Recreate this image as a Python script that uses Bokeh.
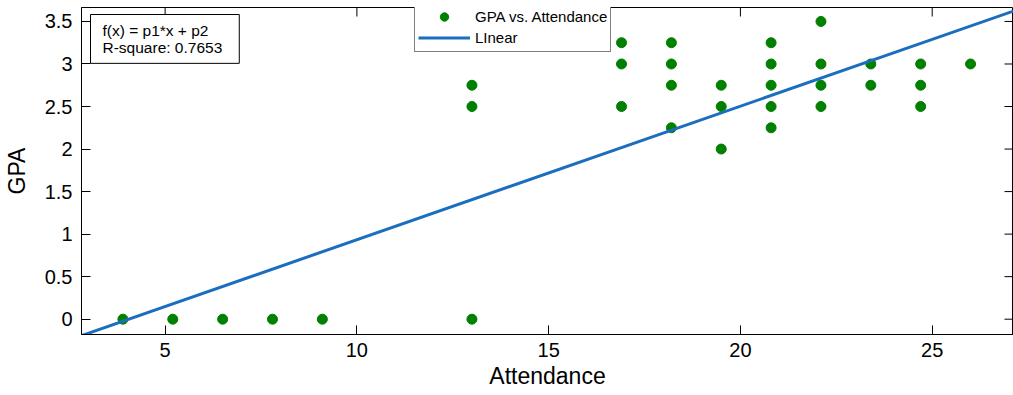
from bokeh.plotting import figure
from bokeh.models import Range1d, Label, FixedTicker
from bokeh.embed import file_html
from bokeh.resources import INLINE

# ---- data ----
attendance = [3.9, 5.2, 6.5, 7.8, 9.1,
              13.0, 13.0, 13.0,
              16.9, 16.9, 16.9,
              18.2, 18.2, 18.2, 18.2,
              19.5, 19.5, 19.5,
              20.8, 20.8, 20.8, 20.8, 20.8,
              22.1, 22.1, 22.1, 22.1,
              23.4, 23.4,
              24.7, 24.7, 24.7,
              26.0]
gpa = [0, 0, 0, 0, 0,
       0, 2.5, 2.75,
       2.5, 3.0, 3.25,
       2.25, 2.75, 3.0, 3.25,
       2.0, 2.5, 2.75,
       2.25, 2.5, 2.75, 3.0, 3.25,
       2.5, 2.75, 3.0, 3.5,
       2.75, 3.0,
       2.5, 2.75, 3.0,
       3.0]

fit_p1 = 0.157
fit_p2 = -0.636
r_square = "0.7653"

x_ticks = [5, 10, 15, 20, 25]
y_ticks = [0, 0.5, 1, 1.5, 2, 2.5, 3, 3.5]
y_tick_labels = ["0", "0.5", "1", "1.5", "2", "2.5", "3", "3.5"]

X_START, X_END = 2.82, 27.12
Y_START, Y_END = -0.18, 3.664

FONT = "Liberation Sans"
W, H = 1013, 395
BL, BR, BT, BB = 81, 0, 7, 61
TICK = 9

p = figure(width=W, height=H, output_backend="svg", toolbar_location=None,
           x_range=Range1d(X_START, X_END), y_range=Range1d(Y_START, Y_END),
           min_border_left=BL, min_border_right=BR, min_border_top=BT, min_border_bottom=BB)
p.background_fill_color = "white"
p.border_fill_color = "white"
p.outline_line_color = "black"
p.outline_line_width = 1
p.xgrid.visible = False
p.ygrid.visible = False

# inward ticks on the top and right edges (box style)
px_per_x = (W - BL - BR) / (X_END - X_START)
px_per_y = (H - BT - BB) / (Y_END - Y_START)
dx = TICK / px_per_x
dy = TICK / px_per_y
p.segment(x0=x_ticks, y0=[Y_END] * len(x_ticks), x1=x_ticks, y1=[Y_END - dy] * len(x_ticks),
          line_color="black", line_width=1)
p.segment(x0=[X_END] * len(y_ticks), y0=y_ticks, x1=[X_END - dx] * len(y_ticks), y1=y_ticks,
          line_color="black", line_width=1)

# data and fit line
fx = [X_START, X_END]
fy = [fit_p1 * v + fit_p2 for v in fx]
sc = p.scatter(attendance, gpa, size=10, color="#008000", legend_label="GPA vs. Attendance")
ln = p.line(fx, fy, line_color="#1b6ebe", line_width=3, legend_label="LInear")

def style_axis(ax, ticks):
    ax.ticker = FixedTicker(ticks=ticks)
    ax.major_tick_in = TICK
    ax.major_tick_out = 0
    ax.minor_tick_line_color = None
    ax.axis_line_color = "black"
    ax.major_tick_line_color = "black"
    ax.major_label_text_font = FONT
    ax.major_label_text_color = "black"
    ax.major_label_text_font_size = "20px"

xa = p.xaxis[0]
style_axis(xa, x_ticks)
xa.major_label_standoff = 8
xa.axis_label = "Attendance"
xa.axis_label_text_font = FONT
xa.axis_label_text_font_size = "23px"
xa.axis_label_text_font_style = "normal"
xa.axis_label_text_color = "black"
xa.axis_label_standoff = 3

ya = p.yaxis[0]
style_axis(ya, y_ticks)
ya.major_label_overrides = {t: l for t, l in zip(y_ticks, y_tick_labels)}
ya.major_label_standoff = 9
ya.axis_label = "GPA"
ya.axis_label_text_font = FONT
ya.axis_label_text_font_size = "23px"
ya.axis_label_text_font_style = "normal"
ya.axis_label_text_color = "black"
ya.axis_label_standoff = 12

# legend
lg = p.legend[0]
lg.location = (333, 282)
lg.border_line_color = "black"
lg.border_line_width = 1
lg.background_fill_color = "white"
lg.background_fill_alpha = 1
lg.label_text_font = FONT
lg.label_text_font_size = "15px"
lg.label_text_color = "black"
lg.glyph_width = 52
lg.glyph_height = 21
lg.label_height = 21
lg.label_standoff = 5
lg.spacing = 0
lg.padding = 3
lg.margin = 0

# fit info box
info = Label(x=9, y=320, x_units="screen", y_units="screen",
             text="f(x) = p1*x + p2\nR-square: " + r_square,
             text_font=FONT, text_font_size="15.5px", text_color="black",
             text_align="left", text_baseline="top", text_line_height=1.05,
             border_line_color="black", border_line_width=1,
             background_fill_color="white", padding=(12, 17, 7, 7))
p.add_layout(info)

open("out.html", "w").write(file_html(p, INLINE))
